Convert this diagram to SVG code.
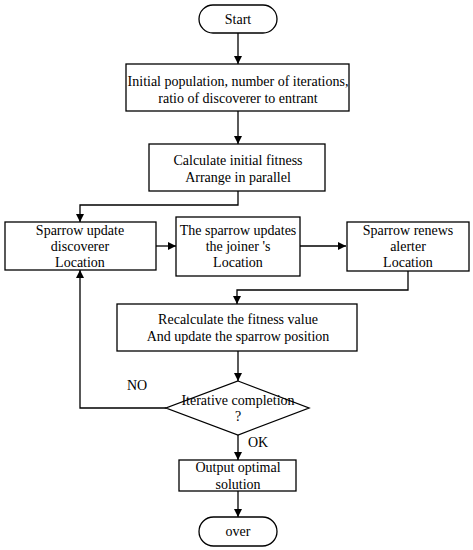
<svg xmlns="http://www.w3.org/2000/svg" width="473" height="550" viewBox="0 0 473 550">
<style>
.n{fill:#fff;stroke:#000;stroke-width:1.3}
.t{font-family:"Liberation Serif","Times New Roman",serif;font-size:14px;fill:#000;text-anchor:middle}
.c{fill:none;stroke:#000;stroke-width:1.3}
</style>
<defs>
<marker id="a" viewBox="0 0 10 10" refX="10" refY="5" markerWidth="8" markerHeight="8" markerUnits="userSpaceOnUse" orient="auto">
<path d="M0,0 L10,5 L0,10 z" fill="#000"/>
</marker>
</defs>
<rect width="473" height="550" fill="#fff"/>
<g id="connectors">
<path class="c" d="M238,33 V64" marker-end="url(#a)"/>
<path class="c" d="M238,111 V144" marker-end="url(#a)"/>
<path class="c" d="M238,191 V205 H80 V222" marker-end="url(#a)"/>
<path class="c" d="M156,246 H176" marker-end="url(#a)"/>
<path class="c" d="M300,246 H346" marker-end="url(#a)"/>
<path class="c" d="M408,271 V290 H237 V304" marker-end="url(#a)"/>
<path class="c" d="M238,351 V381" marker-end="url(#a)"/>
<path class="c" d="M166,408 H80 V270" marker-end="url(#a)"/>
<path class="c" d="M238,435 V460" marker-end="url(#a)"/>
<path class="c" d="M238,491 V517" marker-end="url(#a)"/>
<text class="t" x="137" y="390">NO</text>
<text class="t" x="258" y="447">OK</text>
</g>
<g id="start">
<rect class="n" x="199" y="5" width="78" height="28" rx="14"/>
<text class="t" x="238" y="24">Start</text>
</g>
<g id="init">
<rect class="n" x="126" y="64" width="223" height="47"/>
<text class="t" x="238" y="86">Initial population, number of iterations,</text>
<text class="t" x="238" y="103">ratio of discoverer to entrant</text>
</g>
<g id="calc">
<rect class="n" x="149" y="144" width="176" height="47"/>
<text class="t" x="238" y="165">Calculate initial fitness</text>
<text class="t" x="238" y="182">Arrange in parallel</text>
</g>
<g id="discoverer">
<rect class="n" x="5" y="222" width="151" height="48"/>
<text class="t" x="80" y="235">Sparrow update</text>
<text class="t" x="80" y="251">discoverer</text>
<text class="t" x="80" y="267">Location</text>
</g>
<g id="joiner">
<rect class="n" x="176" y="217" width="124" height="59"/>
<text class="t" x="238" y="235">The sparrow updates</text>
<text class="t" x="238" y="251">the joiner 's</text>
<text class="t" x="238" y="267">Location</text>
</g>
<g id="alerter">
<rect class="n" x="347" y="222" width="122" height="49"/>
<text class="t" x="408" y="235">Sparrow renews</text>
<text class="t" x="408" y="251">alerter</text>
<text class="t" x="408" y="267">Location</text>
</g>
<g id="recalc">
<rect class="n" x="117" y="304" width="240" height="47"/>
<text class="t" x="238" y="324">Recalculate the fitness value</text>
<text class="t" x="238" y="341">And update the sparrow position</text>
</g>
<g id="decision">
<path class="n" d="M238,381 L309,408 L238,435 L166,408 Z"/>
<text class="t" x="238" y="405">Iterative completion</text>
<text class="t" x="238" y="421">?</text>
</g>
<g id="output">
<rect class="n" x="179" y="460" width="117" height="31"/>
<text class="t" x="238" y="472">Output optimal</text>
<text class="t" x="238" y="489">solution</text>
</g>
<g id="over">
<rect class="n" x="199" y="517" width="78" height="29" rx="14.5"/>
<text class="t" x="238" y="536">over</text>
</g>
</svg>
